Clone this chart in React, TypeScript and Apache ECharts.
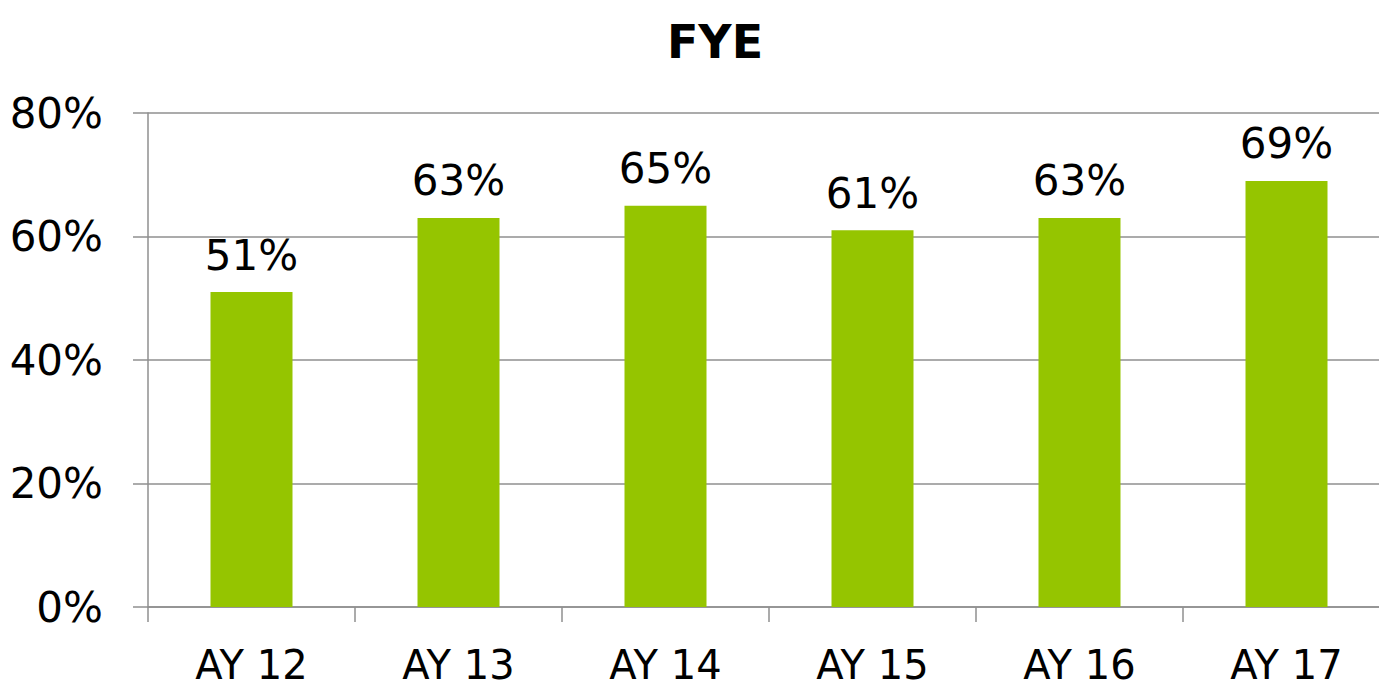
import React, { useEffect, useRef } from "react";
import * as echarts from "echarts";

const categories = ["AY 12", "AY 13", "AY 14", "AY 15", "AY 16", "AY 17"];
const values = [51, 63, 65, 61, 63, 69];
const yTicks = [0, 20, 40, 60, 80];
const titleText = "FYE";

export default function App() {
  const ref = useRef<HTMLDivElement>(null);
  useEffect(() => {
    document.body.style.margin = "0";
    const chart = echarts.init(ref.current!, null, { renderer: "svg" });
    const font = "DejaVu Sans";
    chart.setOption({
      animation: false,
      backgroundColor: "#ffffff",
      title: {
        text: titleText,
        left: 710,
        top: 14,
        textAlign: "center",
        textStyle: { fontFamily: font, fontWeight: "bold", fontSize: 46, color: "#000" },
      },
      grid: { left: 148, right: 0, top: 113, bottom: 81, containLabel: false },
      xAxis: {
        type: "category",
        data: categories,
        axisLine: { show: true, lineStyle: { color: "#8f8f8f", width: 1.5 } },
        axisTick: { show: true, length: 15, lineStyle: { color: "#8f8f8f", width: 1.5 } },
        axisLabel: { fontFamily: font, fontSize: 40, lineHeight: 40, color: "#000", margin: 38 },
      },
      yAxis: {
        type: "value",
        min: 0,
        max: yTicks[yTicks.length - 1],
        interval: 20,
        axisLine: { show: true, lineStyle: { color: "#8f8f8f", width: 1.5 } },
        axisTick: { show: true, length: 15, lineStyle: { color: "#8f8f8f", width: 1.5 } },
        splitLine: { show: true, lineStyle: { color: "#8f8f8f", width: 1.5 } },
        axisLabel: {
          fontFamily: font,
          fontSize: 42,
          color: "#000",
          margin: 45,
          formatter: (v: number) => v + "%",
        },
      },
      series: [
        {
          type: "bar",
          data: values,
          barWidth: 82,
          itemStyle: { color: "#95C500" },
          label: {
            show: true,
            position: "top",
            distance: 16,
            fontFamily: font,
            fontSize: 42,
            color: "#000",
            formatter: (p: any) => p.value + "%",
          },
        },
      ],
    });
    return () => chart.dispose();
  }, []);
  return (
    <div style={{ width: 1379, height: 688, overflow: "hidden", position: "relative" }}>
      <div ref={ref} style={{ width: 1390, height: 688 }} />
    </div>
  );
}
